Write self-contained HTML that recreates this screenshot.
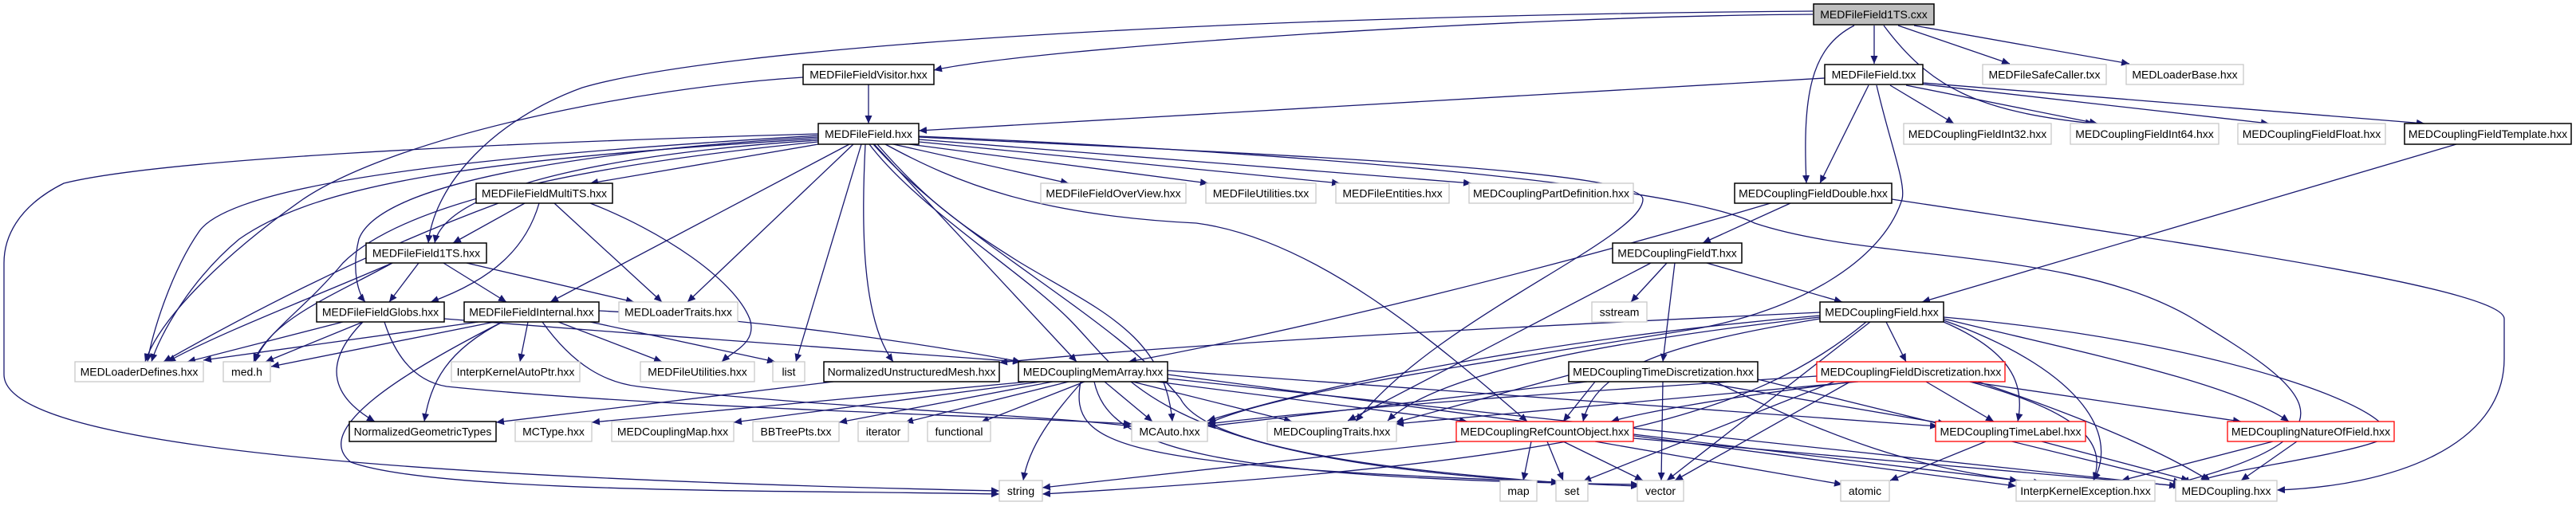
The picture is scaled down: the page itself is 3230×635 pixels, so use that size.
<!DOCTYPE html>
<html><head><meta charset="utf-8"><style>
html,body{margin:0;padding:0;background:#fff;}
svg{display:block}
.e{fill:none;stroke:#191970;stroke-width:1.3;marker-end:url(#a)}
text{font-family:"Liberation Sans",sans-serif;font-size:14px;text-anchor:middle;fill:#000}
.b{fill:#fff;stroke:#000;stroke-width:1.5}
.g{fill:#fff;stroke:#c8c8c8;stroke-width:1.3}
.r{fill:#fff;stroke:#ff0000;stroke-width:1.3}
</style></head><body>
<svg width="3230" height="635" viewBox="0 0 3230 635" xmlns="http://www.w3.org/2000/svg">
<defs><marker id="a" markerUnits="userSpaceOnUse" markerWidth="11" markerHeight="9" refX="10" refY="4.5" orient="auto"><path d="M0,0 L10,4.5 L0,9 z" fill="#191970"/></marker></defs>
<g>
<path class="e" d="M2273,18 C1900,20 1300,60 1171,88"/>
<path class="e" d="M2273,14 C1500,20 900,60 730,110 C620,150 545,230 537,305"/>
<path class="e" d="M1007,97 C800,110 500,170 380,250 C280,320 200,400 182,454"/>
<path class="e" d="M2350,32 L2350,80"/>
<path class="e" d="M2380,32 L2520,80"/>
<path class="e" d="M2400,32 L2670,80"/>
<path class="e" d="M2325,32 C2270,60 2260,120 2265,230"/>
<path class="e" d="M2362,32 C2420,110 2480,140 2625,155"/>
<path class="e" d="M2288,98 L1152,164"/>
<path class="e" d="M1089,106 L1089,155"/>
<path class="e" d="M2370,107 L2450,155"/>
<path class="e" d="M2390,107 L2630,155"/>
<path class="e" d="M2405,105 L2845,155"/>
<path class="e" d="M2411,104 L3040,155"/>
<path class="e" d="M2343,107 L2282,230"/>
<path class="e" d="M2353,107 C2370,180 2390,230 2385,250 C2360,330 2250,390 2130,412 C1900,450 1600,490 1514,532"/>
<path class="e" d="M1026,181 L740,230"/>
<path class="e" d="M1026,176 C800,190 560,230 545,305"/>
<path class="e" d="M1026,172 C800,185 480,220 450,300 C440,340 450,370 458,379"/>
<path class="e" d="M1065,181 L690,379"/>
<path class="e" d="M1070,181 L862,379"/>
<path class="e" d="M1026,170 C700,190 300,220 250,290 C215,340 190,420 185,454"/>
<path class="e" d="M1026,174 C600,200 400,230 300,300 C240,350 200,420 190,454"/>
<path class="e" d="M1026,178 C700,210 500,260 430,330 C380,390 330,420 320,454"/>
<path class="e" d="M1080,181 L998,454"/>
<path class="e" d="M1026,168 C600,180 200,200 80,230 C20,260 5,300 5,330 L5,470 C5,560 500,600 1253,616"/>
<path class="e" d="M1085,181 C1080,280 1080,400 1120,454"/>
<path class="e" d="M1096,181 L1350,454"/>
<path class="e" d="M1100,181 C1160,250 1200,280 1280,330 C1380,390 1460,420 1470,529"/>
<path class="e" d="M1120,181 L1340,230"/>
<path class="e" d="M1140,181 L1515,230"/>
<path class="e" d="M1152,178 L1680,230"/>
<path class="e" d="M1152,175 L1845,230"/>
<path class="e" d="M1110,181 C1200,230 1300,270 1500,280 C1650,300 1800,430 1915,529"/>
<path class="e" d="M1152,172 C1500,190 2060,210 2060,250 C2060,300 1800,400 1700,529"/>
<path class="e" d="M1152,171 C1600,190 2100,230 2200,280 C2350,330 2600,310 2750,400 C2880,480 2980,540 2735,605"/>
<path class="e" d="M1090,181 C1150,260 1280,340 1340,400 C1420,480 1450,590 2055,610"/>
<path class="e" d="M1095,181 C1200,300 1400,400 1480,500 C1520,580 1900,600 1955,606"/>
<path class="e" d="M658,255 L568,305"/>
<path class="e" d="M676,255 C660,310 620,350 540,379"/>
<path class="e" d="M695,255 L830,379"/>
<path class="e" d="M740,255 C830,290 920,350 940,400 C950,430 920,440 905,454"/>
<path class="e" d="M625,255 C450,320 300,400 205,454"/>
<path class="e" d="M525,330 L488,379"/>
<path class="e" d="M556,330 L635,379"/>
<path class="e" d="M585,330 L795,379"/>
<path class="e" d="M492,330 C400,370 270,420 210,454"/>
<path class="e" d="M492,330 C420,370 340,400 318,454"/>
<path class="e" d="M430,404 L235,454"/>
<path class="e" d="M455,404 L333,454"/>
<path class="e" d="M455,404 C400,460 420,500 470,529"/>
<path class="e" d="M557,400 C800,420 1100,440 1280,454"/>
<path class="e" d="M482,404 C500,460 530,480 560,485 C800,510 1200,520 1419,532"/>
<path class="e" d="M600,404 L255,452"/>
<path class="e" d="M620,404 L340,460"/>
<path class="e" d="M662,404 L652,454"/>
<path class="e" d="M700,404 L830,454"/>
<path class="e" d="M740,404 L972,454"/>
<path class="e" d="M630,404 C560,440 540,480 532,529"/>
<path class="e" d="M630,404 C500,470 390,540 440,580 C550,620 1000,615 1253,620"/>
<path class="e" d="M680,404 C720,460 760,480 800,485 C1000,510 1300,520 1419,535"/>
<path class="e" d="M751,390 C950,400 1150,430 1280,454"/>
<path class="e" d="M1045,479 L622,530"/>
<path class="e" d="M1290,479 L742,530"/>
<path class="e" d="M1305,479 L920,530"/>
<path class="e" d="M1320,479 L1052,530"/>
<path class="e" d="M1340,479 L1135,530"/>
<path class="e" d="M1360,479 L1230,530"/>
<path class="e" d="M1385,479 L1445,529"/>
<path class="e" d="M1420,479 L1620,529"/>
<path class="e" d="M1450,479 L1840,529"/>
<path class="e" d="M1357,479 C1320,520 1290,560 1283,603"/>
<path class="e" d="M1355,479 C1340,560 1400,585 1955,605"/>
<path class="e" d="M1372,479 C1390,560 1500,600 2055,608"/>
<path class="e" d="M1464,470 L2528,610"/>
<path class="e" d="M1464,465 L2430,535"/>
<path class="e" d="M1464,475 L2730,610"/>
<path class="e" d="M2282,392 C1900,410 1500,430 1253,455"/>
<path class="e" d="M2220,255 C1900,350 1600,420 1415,454"/>
<path class="e" d="M2282,396 C2000,420 1700,470 1514,528"/>
<path class="e" d="M2282,398 C2000,430 1800,470 1740,528"/>
<path class="e" d="M2282,400 C2100,430 2000,460 1985,529"/>
<path class="e" d="M2340,404 C2200,520 2000,580 1307,620"/>
<path class="e" d="M2345,404 L2090,603"/>
<path class="e" d="M2365,404 L2390,454"/>
<path class="e" d="M2437,404 C2520,440 2540,480 2530,529"/>
<path class="e" d="M2437,400 C2600,440 2800,480 2870,529"/>
<path class="e" d="M2437,402 C2600,460 2660,540 2625,603"/>
<path class="e" d="M2437,398 C2800,430 3020,520 2990,550 C2950,570 2790,590 2760,603"/>
<path class="e" d="M2090,330 L2045,379"/>
<path class="e" d="M2100,330 L2085,454"/>
<path class="e" d="M2140,330 L2310,379"/>
<path class="e" d="M2070,330 L1690,528"/>
<path class="e" d="M2245,255 L2135,305"/>
<path class="e" d="M2372,250 C2700,300 3140,360 3140,400 L3140,450 C3140,560 3000,610 2855,615"/>
<path class="e" d="M3080,181 L2410,379"/>
<path class="e" d="M1990,479 L1514,535"/>
<path class="e" d="M2000,479 L1960,529"/>
<path class="e" d="M1970,470 L1750,530"/>
<path class="e" d="M2130,479 L2440,532"/>
<path class="e" d="M2085,479 L2083,603"/>
<path class="e" d="M2150,479 C2300,550 2400,590 2560,606"/>
<path class="e" d="M2204,476 L2735,606"/>
<path class="e" d="M2278,472 C2000,490 1700,510 1514,532"/>
<path class="e" d="M2325,479 C2150,500 2050,520 2020,529"/>
<path class="e" d="M2415,479 L2500,529"/>
<path class="e" d="M2470,479 L2810,529"/>
<path class="e" d="M2300,479 L1985,604"/>
<path class="e" d="M2320,479 L2100,603"/>
<path class="e" d="M2470,479 C2620,520 2640,560 2625,603"/>
<path class="e" d="M2480,479 C2600,520 2700,560 2770,603"/>
<path class="e" d="M2330,479 C2100,500 1900,520 1750,532"/>
<path class="e" d="M2490,554 L2370,603"/>
<path class="e" d="M2560,554 L2745,603"/>
<path class="e" d="M2850,554 L2660,603"/>
<path class="e" d="M2880,554 L2810,603"/>
<path class="e" d="M1920,554 L1910,603"/>
<path class="e" d="M1940,554 L1960,603"/>
<path class="e" d="M1960,554 L2060,603"/>
<path class="e" d="M1830,554 L1307,612"/>
<path class="e" d="M2000,554 L2310,608"/>
<path class="e" d="M2048,550 L2735,610"/>
<path class="e" d="M2048,545 L2530,603"/>
</g>
<g>
<rect x="2274" y="5" width="151" height="26" fill="#bfbfbf" stroke="#000" stroke-width="1.5"/><text x="2349.5" y="23">MEDFileField1TS.cxx</text>
<rect class="b" x="1007" y="81" width="164" height="25"/><text x="1089" y="98.5">MEDFileFieldVisitor.hxx</text>
<rect class="b" x="2288" y="81" width="123" height="25"/><text x="2349.5" y="98.5">MEDFileField.txx</text>
<rect class="g" x="2486" y="81" width="155" height="25"/><text x="2563.5" y="98.5">MEDFileSafeCaller.txx</text>
<rect class="g" x="2666" y="81" width="147" height="25"/><text x="2739.5" y="98.5">MEDLoaderBase.hxx</text>
<rect class="b" x="1026" y="155" width="126" height="26"/><text x="1089" y="173">MEDFileField.hxx</text>
<rect class="g" x="2387" y="155" width="185" height="26"/><text x="2479.5" y="173">MEDCouplingFieldInt32.hxx</text>
<rect class="g" x="2596" y="155" width="186" height="26"/><text x="2689" y="173">MEDCouplingFieldInt64.hxx</text>
<rect class="g" x="2806" y="155" width="185" height="26"/><text x="2898.5" y="173">MEDCouplingFieldFloat.hxx</text>
<rect class="b" x="3015" y="155" width="209" height="26"/><text x="3119.5" y="173">MEDCouplingFieldTemplate.hxx</text>
<rect class="b" x="597" y="230" width="171" height="25"/><text x="682.5" y="247.5">MEDFileFieldMultiTS.hxx</text>
<rect class="g" x="1305" y="230" width="182" height="25"/><text x="1396" y="247.5">MEDFileFieldOverView.hxx</text>
<rect class="g" x="1512" y="230" width="138" height="25"/><text x="1581" y="247.5">MEDFileUtilities.txx</text>
<rect class="g" x="1675" y="230" width="142" height="25"/><text x="1746" y="247.5">MEDFileEntities.hxx</text>
<rect class="g" x="1842" y="230" width="206" height="25"/><text x="1945" y="247.5">MEDCouplingPartDefinition.hxx</text>
<rect class="b" x="2175" y="230" width="197" height="25"/><text x="2273.5" y="247.5">MEDCouplingFieldDouble.hxx</text>
<rect class="b" x="459" y="305" width="151" height="25"/><text x="534.5" y="322.5">MEDFileField1TS.hxx</text>
<rect class="b" x="2022" y="305" width="162" height="25"/><text x="2103" y="322.5">MEDCouplingFieldT.hxx</text>
<rect class="b" x="397" y="379" width="160" height="25"/><text x="477" y="396.5">MEDFileFieldGlobs.hxx</text>
<rect class="b" x="582" y="379" width="169" height="25"/><text x="666.5" y="396.5">MEDFileFieldInternal.hxx</text>
<rect class="g" x="776" y="379" width="149" height="25"/><text x="850.5" y="396.5">MEDLoaderTraits.hxx</text>
<rect class="g" x="1996" y="379" width="69" height="25"/><text x="2030.5" y="396.5">sstream</text>
<rect class="b" x="2282" y="379" width="155" height="25"/><text x="2359.5" y="396.5">MEDCouplingField.hxx</text>
<rect class="g" x="94" y="454" width="161" height="25"/><text x="174.5" y="471.5">MEDLoaderDefines.hxx</text>
<rect class="g" x="280" y="454" width="59" height="25"/><text x="309.5" y="471.5">med.h</text>
<rect class="g" x="566" y="454" width="161" height="25"/><text x="646.5" y="471.5">InterpKernelAutoPtr.hxx</text>
<rect class="g" x="803" y="454" width="143" height="25"/><text x="874.5" y="471.5">MEDFileUtilities.hxx</text>
<rect class="g" x="969" y="454" width="40" height="25"/><text x="989" y="471.5">list</text>
<rect class="b" x="1033" y="454" width="220" height="25"/><text x="1143" y="471.5">NormalizedUnstructuredMesh.hxx</text>
<rect class="b" x="1277" y="454" width="187" height="25"/><text x="1370.5" y="471.5">MEDCouplingMemArray.hxx</text>
<rect class="b" x="1967" y="454" width="237" height="25"/><text x="2085.5" y="471.5">MEDCouplingTimeDiscretization.hxx</text>
<rect class="r" x="2278" y="454" width="236" height="25"/><text x="2396" y="471.5">MEDCouplingFieldDiscretization.hxx</text>
<rect class="b" x="438" y="529" width="184" height="25"/><text x="530" y="546.5">NormalizedGeometricTypes</text>
<rect class="g" x="646" y="529" width="96" height="25"/><text x="694" y="546.5">MCType.hxx</text>
<rect class="g" x="767" y="529" width="153" height="25"/><text x="843.5" y="546.5">MEDCouplingMap.hxx</text>
<rect class="g" x="944" y="529" width="108" height="25"/><text x="998" y="546.5">BBTreePts.txx</text>
<rect class="g" x="1076" y="529" width="63" height="25"/><text x="1107.5" y="546.5">iterator</text>
<rect class="g" x="1163" y="529" width="79" height="25"/><text x="1202.5" y="546.5">functional</text>
<rect class="g" x="1419" y="529" width="95" height="25"/><text x="1466.5" y="546.5">MCAuto.hxx</text>
<rect class="g" x="1589" y="529" width="162" height="25"/><text x="1670" y="546.5">MEDCouplingTraits.hxx</text>
<rect class="r" x="1826" y="529" width="222" height="25"/><text x="1937" y="546.5">MEDCouplingRefCountObject.hxx</text>
<rect class="r" x="2427" y="529" width="188" height="25"/><text x="2521" y="546.5">MEDCouplingTimeLabel.hxx</text>
<rect class="r" x="2793" y="529" width="209" height="25"/><text x="2897.5" y="546.5">MEDCouplingNatureOfField.hxx</text>
<rect class="g" x="1253" y="603" width="54" height="26"/><text x="1280" y="621">string</text>
<rect class="g" x="1881" y="603" width="46" height="26"/><text x="1904" y="621">map</text>
<rect class="g" x="1951" y="603" width="40" height="26"/><text x="1971" y="621">set</text>
<rect class="g" x="2053" y="603" width="58" height="26"/><text x="2082" y="621">vector</text>
<rect class="g" x="2308" y="603" width="61" height="26"/><text x="2338.5" y="621">atomic</text>
<rect class="g" x="2528" y="603" width="174" height="26"/><text x="2615" y="621">InterpKernelException.hxx</text>
<rect class="g" x="2728" y="603" width="127" height="26"/><text x="2791.5" y="621">MEDCoupling.hxx</text>
</g>
</svg>
</body></html>
